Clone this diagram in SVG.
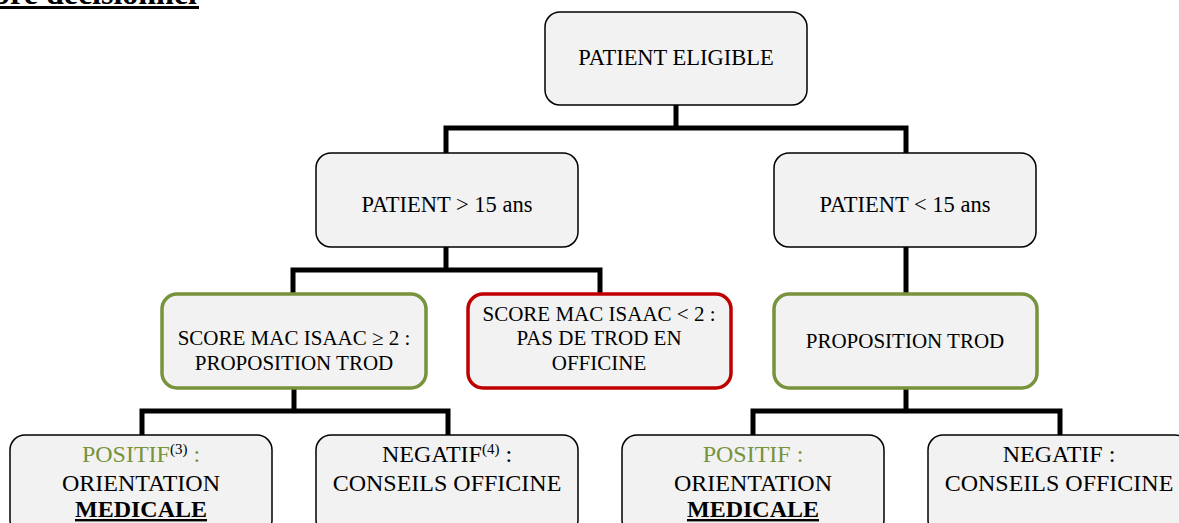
<svg xmlns="http://www.w3.org/2000/svg" width="1179" height="523" viewBox="0 0 1179 523">
<style>
.box{fill:#f2f2f2;stroke:#000;stroke-width:1.5}
.green{fill:#f2f2f2;stroke:#77933c;stroke-width:3.5}
.red{fill:#f2f2f2;stroke:#c00000;stroke-width:3.5}
text{font-family:"Liberation Serif","Times New Roman",serif;fill:#000;text-anchor:middle}
.t22{font-size:22.5px}
.t21{font-size:21px}
.t24{font-size:24px}
.g{fill:#77933c}
.sup{font-size:15px}
.conn{fill:none;stroke:#000;stroke-width:5;stroke-linejoin:miter}
</style>
<g id="title">
<text x="197" y="4" style="font-size:32px;font-weight:bold;text-anchor:end">Arbre décisionnel</text>
<rect x="0" y="6" width="199" height="3" fill="#000"/>
</g>
<g id="connectors">
<path class="conn" d="M676 105 V128 M446 153 V128 H906 V153"/>
<path class="conn" d="M446 247 V270 M293 294 V270 H600 V294"/>
<path class="conn" d="M906 247 V294"/>
<path class="conn" d="M294 388 V411 M142 435 V411 H448 V435"/>
<path class="conn" d="M906 388 V411 M753 435 V411 H1060 V435"/>
</g>
<g id="n-eligible">
<rect class="box" x="545" y="12" width="262" height="93" rx="15"/>
<text class="t22" x="676" y="65">PATIENT ELIGIBLE</text>
</g>
<g id="n-plus15">
<rect class="box" x="316" y="153" width="262" height="94" rx="15"/>
<text class="t22" x="447" y="212">PATIENT &gt; 15 ans</text>
</g>
<g id="n-moins15">
<rect class="box" x="774" y="153" width="262" height="94" rx="15"/>
<text class="t22" x="905" y="212">PATIENT &lt; 15 ans</text>
</g>
<g id="n-score-ge2">
<rect class="green" x="162" y="294" width="264" height="94" rx="15"/>
<text class="t21" x="294" y="345">SCORE MAC ISAAC ≥ 2 :</text>
<text class="t21" x="294" y="370">PROPOSITION TROD</text>
</g>
<g id="n-score-lt2">
<rect class="red" x="468" y="294" width="263" height="94" rx="15"/>
<text class="t21" x="599" y="321">SCORE MAC ISAAC &lt; 2 :</text>
<text class="t21" x="599" y="345">PAS DE TROD EN</text>
<text class="t21" x="599" y="370">OFFICINE</text>
</g>
<g id="n-proposition">
<rect class="green" x="774" y="294" width="263" height="94" rx="15"/>
<text class="t21" x="905" y="348">PROPOSITION TROD</text>
</g>
<g id="n-positif-1">
<rect class="box" x="10" y="435" width="262" height="100" rx="15"/>
<text class="t24" x="141" y="462"><tspan class="g">POSITIF</tspan><tspan class="sup" dy="-8">(3)</tspan><tspan class="g" dy="8"> :</tspan></text>
<text class="t24" x="141" y="491">ORIENTATION</text>
<text class="t24" x="141" y="517" style="font-weight:bold;text-decoration:underline">MEDICALE</text>
</g>
<g id="n-negatif-1">
<rect class="box" x="316" y="435" width="262" height="100" rx="15"/>
<text class="t24" x="447" y="462">NEGATIF<tspan class="sup" dy="-8">(4)</tspan><tspan dy="8"> :</tspan></text>
<text class="t24" x="447" y="491">CONSEILS OFFICINE</text>
</g>
<g id="n-positif-2">
<rect class="box" x="622" y="435" width="262" height="100" rx="15"/>
<text class="t24 g" x="753" y="462">POSITIF :</text>
<text class="t24" x="753" y="491">ORIENTATION</text>
<text class="t24" x="753" y="517" style="font-weight:bold;text-decoration:underline">MEDICALE</text>
</g>
<g id="n-negatif-2">
<rect class="box" x="928" y="435" width="262" height="100" rx="15"/>
<text class="t24" x="1059" y="462">NEGATIF :</text>
<text class="t24" x="1059" y="491">CONSEILS OFFICINE</text>
</g>
</svg>
